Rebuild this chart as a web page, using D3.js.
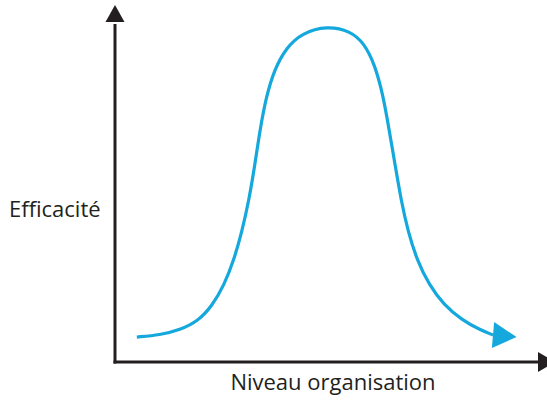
<!DOCTYPE html>
<html>
<head>
<meta charset="utf-8">
<script src="https://cdn.jsdelivr.net/npm/d3@7"></script>
<style>
	body { margin: 0; background: #fff; }
	svg { display: block; }
	text { font-family: "Open Sans", sans-serif; fill: #231f20; }
</style>
</head>
<body>
<svg id="chart"></svg>
<script>
// niveau d'organisation (x) / efficacité (y), unités arbitraires 0-100
var niveau = [5.2, 10.7, 15.5, 19.8, 23.1, 26.0, 28.3, 30.2, 31.9, 33.3, 34.5, 36.0, 37.9, 40.7, 44.5, 50.5,
	56.0, 59.3, 61.9, 63.8, 65.2, 66.7, 68.1, 69.8, 71.9, 74.8, 78.3, 82.6, 86.9, 90.0];
var efficacite = [7.3, 7.9, 9.4, 12.0, 16.4, 22.5, 29.8, 38.0, 47.4, 57.6, 67.8, 77.5, 85.4, 91.8, 96.2, 98.3,
	96.8, 93.3, 86.8, 78.1, 68.4, 57.6, 47.4, 38.0, 29.8, 22.5, 16.7, 12.3, 9.4, 7.9];
// pointe de la flèche au bout de la courbe
var pointe = [95.6, 7.3];

var labelX = 'Niveau organisation';
var labelY = 'Efficacité';

var width = 547,
	height = 400,
	axisColor = '#231f20',
	curveColor = '#14a8dd';

var svg = d3.select('#chart')
	.attr('width', width)
	.attr('height', height);

var x = d3.scaleLinear().domain([0, 100]).range([115, 535]);
var y = d3.scaleLinear().domain([0, 100]).range([362, 20]);

var data = niveau.map(function(d, i) { return [d, efficacite[i]]; });

// axes
var axes = svg.append('g').attr('class', 'axes');

axes.append('path')
	.attr('d', 'M' + x(0) + ',' + (y(0) + 1.5) + 'V' + (y(100) + 4))
	.attr('stroke', axisColor)
	.attr('stroke-width', 3)
	.attr('fill', 'none');

axes.append('path')
	.attr('d', 'M' + (x(0) - 1.5) + ',' + y(0) + 'H' + (x(100) + 6))
	.attr('stroke', axisColor)
	.attr('stroke-width', 3)
	.attr('fill', 'none');

// flèche verticale
axes.append('path')
	.attr('d', 'M' + x(0) + ',' + (y(100) - 15) +
		'L' + (x(0) + 9.5) + ',' + (y(100) + 2) +
		'L' + (x(0) - 9.5) + ',' + (y(100) + 2) + 'Z')
	.attr('fill', axisColor);

// flèche horizontale
axes.append('path')
	.attr('d', 'M' + (x(100) + 20) + ',' + y(0) +
		'L' + (x(100) + 3) + ',' + (y(0) + 10) +
		'L' + (x(100) + 3) + ',' + (y(0) - 10) + 'Z')
	.attr('fill', axisColor);

// courbe
var line = d3.line()
	.x(function(d) { return x(d[0]); })
	.y(function(d) { return y(d[1]); })
	.curve(d3.curveBasis);

svg.append('path')
	.datum(data)
	.attr('d', line)
	.attr('fill', 'none')
	.attr('stroke', curveColor)
	.attr('stroke-width', 3.2)
	.attr('stroke-linecap', 'butt');

// pointe de la courbe
var last = data[data.length - 1];
var bx = x(last[0]), by = y(last[1]),
	tx = x(pointe[0]), ty = y(pointe[1]);
var ang = Math.atan2(ty - by, tx - bx),
	half = 13;
var px = -Math.sin(ang) * half, py = Math.cos(ang) * half;

svg.append('path')
	.attr('d', 'M' + tx + ',' + ty +
		'L' + (bx + px) + ',' + (by + py) +
		'L' + (bx - px) + ',' + (by - py) + 'Z')
	.attr('fill', curveColor);

// libellés
svg.append('text')
	.attr('x', 9)
	.attr('y', 217)
	.attr('font-size', 22)
	.text(labelY);

svg.append('text')
	.attr('x', 333)
	.attr('y', 390)
	.attr('text-anchor', 'middle')
	.attr('font-size', 22)
	.text(labelX);
</script>
</body>
</html>
